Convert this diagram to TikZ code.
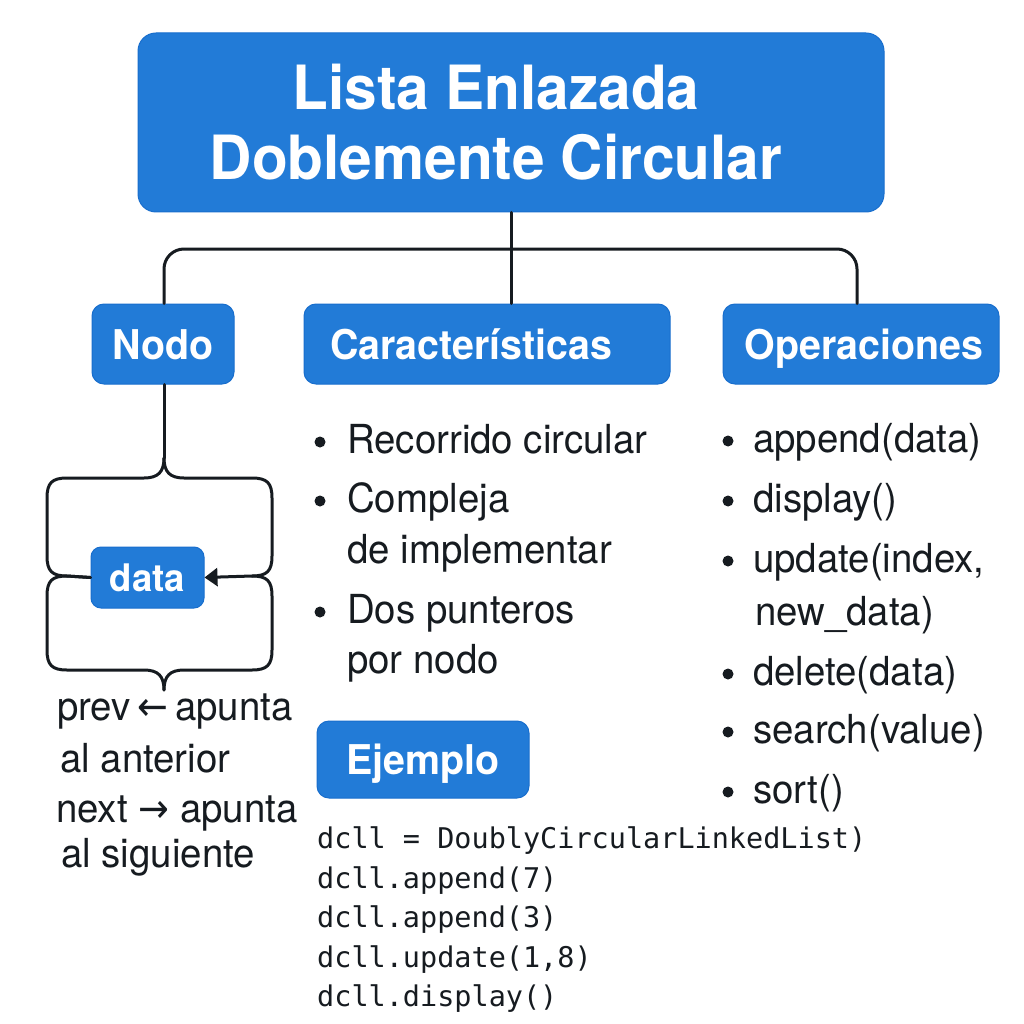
\documentclass[tikz,border=0pt]{standalone}
\usepackage{fontspec}
\setmainfont{TeX Gyre Heros}[FakeStretch=0.96]
\newfontfamily\arrowfont{DejaVu Sans}[FakeStretch=0.92]
\setmonofont{DejaVu Sans Mono}
\usetikzlibrary{arrows.meta}
\definecolor{boxblue}{RGB}{34,123,215}
\definecolor{boxedge}{RGB}{24,110,205}
\definecolor{ink}{RGB}{22,27,32}
\begin{document}
\begin{tikzpicture}[x=1pt,y=-1pt,
  bluebox/.style={fill=boxblue, draw=boxedge, line width=1pt, rounded corners=12pt,
    text=white, font=\fontsize{41}{48}\selectfont\bfseries, inner sep=0pt,
    text height=30pt, text depth=0pt},
  titlebox/.style={fill=boxblue, draw=boxedge, line width=1pt, rounded corners=18pt,
    text=white, font=\fontsize{61}{70}\selectfont\bfseries, inner sep=0pt, align=center},
  conn/.style={draw=ink, line width=3pt, line cap=round},
  bodytext/.style={anchor=base west, inner sep=0pt, text=ink, font=\fontsize{40}{48}\selectfont},
  codetext/.style={anchor=base west, inner sep=0pt, text=ink, font=\fontsize{28.5}{34}\selectfont\ttfamily},
  bulletdot/.style={circle, fill=ink, inner sep=0pt, minimum size=11pt},
]
\useasboundingbox[fill=white] (0,0) rectangle (1024,1024);

% title
\node[titlebox, minimum width=746pt, minimum height=179pt] (title) at (511,122.5)
  {Lista Enlazada\hspace*{30pt}\\Doblemente Circular\hspace*{30pt}};

% headers
\node[bluebox, minimum width=142pt, minimum height=80pt] (nodo) at (163,344) {Nodo};
\node[bluebox, minimum width=366pt, minimum height=80pt, text width=314pt, align=left] (car) at (487,344) {Caracter\'isticas};
\node[bluebox, minimum width=276pt, minimum height=80pt] (ops) at (861,344) {\hspace*{6pt}Operaciones};

% connectors
\coordinate (hub) at (512,249);
\draw[conn] (title.south) -- (title.south |- car.north);
\draw[conn, rounded corners=20pt] ([xshift=1pt]nodo.north) |- (hub) -| ([xshift=-4pt]ops.north);

% node structure
\node[bluebox, rounded corners=10pt, font=\fontsize{38}{44}\selectfont\bfseries, text height=28pt,
  minimum width=113pt, minimum height=61pt] (data) at (147.5,577.5) {data};
\coordinate (bt) at (164,458);
\coordinate (bb) at (164,690);
\coordinate (rj) at (252,576);
\draw[conn] ([xshift=1pt]nodo.south) -- (bt);
\draw[conn] (bt) .. controls (164,472) and (158,478) .. (144,478) -- (67,478)
  .. controls (52,478) and (47,483) .. (47,498) -- (47,556)
  .. controls (47,571) and (52,576) .. (67,576) -- (data.west);
\draw[conn, -{Triangle[length=13pt,width=18pt]}] (bt) .. controls (164,472) and (170,478) .. (184,478) -- (252,478)
  .. controls (267,478) and (272,483) .. (272,498) -- (272,556)
  .. controls (272,571) and (267,576) .. (252,576) -- (data.east);
\draw[conn] (data.west) -- (67,576) .. controls (52,576) and (47,581) .. (47,596) -- (47,650)
  .. controls (47,665) and (52,670) .. (67,670) -- (144,670)
  .. controls (158,670) and (164,676) .. (bb);
\draw[conn] (rj) .. controls (267,576) and (272,581) .. (272,596) -- (272,650)
  .. controls (272,665) and (267,670) .. (252,670) -- (184,670)
  .. controls (170,670) and (164,676) .. (bb);

\node[bodytext] (p1) at (57,720) {prev\,{\arrowfont ←}\,apunta};
\node[bodytext] (p2) at (60,772) {al anterior};
\node[bodytext] (p3) at (56,822) {next {\arrowfont →} apunta};
\node[bodytext] (p4) at (61,867) {al siguiente};

% caracteristicas
\node[bulletdot] (cb1) at (320,442) {};
\node[bulletdot] (cb2) at (320,501) {};
\node[bulletdot] (cb3) at (320,612) {};
\node[bodytext] (c1) at (347,453) {Recorrido circular};
\node[bodytext] (c2) at (347,512) {Compleja};
\node[bodytext] (c3) at (347,563) {de implementar};
\node[bodytext] (c4) at (347,623) {Dos punteros};
\node[bodytext] (c5) at (347,673) {por nodo};

% operaciones
\node[bulletdot] (ob1) at (728,441) {};
\node[bulletdot] (ob2) at (728,501) {};
\node[bulletdot] (ob3) at (728,561) {};
\node[bulletdot] (ob4) at (728,674) {};
\node[bulletdot] (ob5) at (728,732) {};
\node[bulletdot] (ob6) at (728,792) {};
\node[bodytext] (o1) at (753,452) {append(data)};
\node[bodytext] (o2) at (753,512) {display()};
\node[bodytext] (o3) at (753,572) {update(index,};
\node[bodytext] (o4) at (755,625) {new\_data)};
\node[bodytext] (o5) at (753,685) {delete(data)};
\node[bodytext] (o6) at (753,743) {search(value)};
\node[bodytext] (o7) at (753,803) {sort()};

% ejemplo
\node[bluebox, minimum width=212pt, minimum height=77pt] (ej) at (423,759.5) {Ejemplo};
\node[codetext] (k1) at (317,848) {dcll = DoublyCircularLinkedList)};
\node[codetext] (k2) at (317,888) {dcll.append(7)};
\node[codetext] (k3) at (317,927) {dcll.append(3)};
\node[codetext] (k4) at (317,967) {dcll.update(1,8)};
\node[codetext] (k5) at (317,1006) {dcll.display()};
\end{tikzpicture}
\end{document}
